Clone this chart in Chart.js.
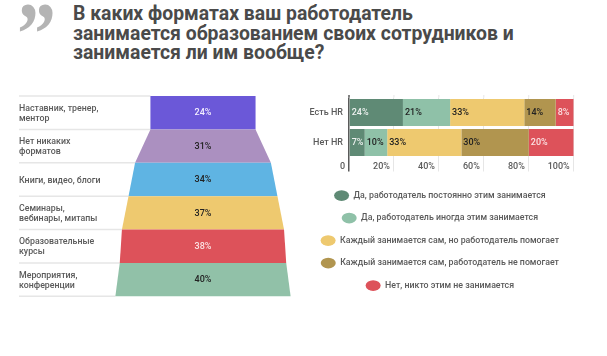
<!DOCTYPE html>
<html lang="ru">
<head>
<meta charset="utf-8">
<title>Форматы обучения</title>
<script src="https://cdn.jsdelivr.net/npm/chart.js@4/dist/chart.umd.min.js"></script>
<style>
    html, body { margin: 0; padding: 0; background: #fff; }
    body { position: relative; width: 607px; height: 356px; overflow: hidden; font-family: Roboto, sans-serif; }
    #quote { position: absolute; left: 17px; top: -12px; font: bold 78px/1 "Liberation Serif", serif; color: #b4b4b4; transform: scaleY(1.15); transform-origin: top left; }
    #title { position: absolute; left: 73px; top: 4px; font: bold 19.4px/19.5px Roboto, sans-serif; color: #4a4a4a; white-space: nowrap; }
    #funnel { position: absolute; left: 0; top: 90px; }
    #stack { position: absolute; left: 306px; top: 60px; }
</style>
</head>
<body>
<div id="quote">”</div>
<div id="title">В каких форматах ваш работодатель<br>занимается образованием своих сотрудников и<br>занимается ли им вообще?</div>
<canvas id="funnel" width="300" height="212"></canvas>
<canvas id="stack" width="278" height="240"></canvas>
<script>
    // funnel on the left
    var categories = [
        ['Наставник, тренер,', 'ментор'],
        ['Нет никаких', 'форматов'],
        ['Книги, видео, блоги'],
        ['Семинары,', 'вебинары, митапы'],
        ['Образовательные', 'курсы'],
        ['Мероприятия,', 'конференции']
    ];
    var funnelValues = [24, 31, 34, 37, 38, 40];
    var funnelColors = ['#6b58d8', '#ab90c0', '#5fb4e3', '#eec96f', '#dd525a', '#91c1a8'];
    var funnelTextColors = ['#f4f0ff', '#222222', '#222222', '#222222', '#fbe3e4', '#222222'];

    // stacked bars on the right
    var groups = ['Есть HR', 'Нет HR'];
    var alwaysValues = [24, 7];
    var sometimesValues = [21, 10];
    var helpsValues = [33, 33];
    var noHelpValues = [14, 30];
    var nobodyValues = [8, 20];
    var seriesNames = [
        'Да, работодатель постоянно этим занимается',
        'Да, работодатель иногда этим занимается',
        'Каждый занимается сам, но работодатель помогает',
        'Каждый занимается сам, работодатель не помогает',
        'Нет, никто этим не занимается'
    ];
    var seriesColors = ['#5f8a75', '#8fc1a8', '#eec96f', '#b1954f', '#dd525a'];
    var seriesTextColors = ['#eef2f0', '#222222', '#222222', '#222222', '#fbe3e4'];
    var xTickLabels = ['0', '20%', '40%', '60%', '80%', '100%'];

    var labelFont = '500 9px Roboto';
    var gridColor = '#e6e6e6';
    var axisColor = '#5a5a5a';

    // trapezoids instead of plain bars, every row starts from the width of the previous one
    var funnelPlugin = {
        id: 'funnelShapes',
        beforeDatasetDraw: function (chart) {
            var ctx = chart.ctx;
            var bars = chart.getDatasetMeta(0).data;
            var i;
            ctx.save();
            ctx.strokeStyle = gridColor;
            ctx.lineWidth = 1.5;
            for (i = 0; i < bars.length; i++) {
                var bottom = bars[i].y + bars[i].height / 2;
                if (i === 0) {
                    ctx.beginPath();
                    ctx.moveTo(chart.chartArea.left, bottom - bars[i].height);
                    ctx.lineTo(bars[0].base, bottom - bars[i].height);
                    ctx.stroke();
                }
                ctx.beginPath();
                ctx.moveTo(chart.chartArea.left, bottom);
                ctx.lineTo(bars[i].base, bottom);
                ctx.stroke();
            }
            for (i = 0; i < bars.length; i++) {
                var bar = bars[i];
                var prev = bars[i === 0 ? 0 : i - 1];
                var top = bar.y - bar.height / 2;
                ctx.fillStyle = funnelColors[i];
                ctx.beginPath();
                ctx.moveTo(prev.base, top);
                ctx.lineTo(prev.x, top);
                ctx.lineTo(bar.x, top + bar.height);
                ctx.lineTo(bar.base, top + bar.height);
                ctx.closePath();
                ctx.fill();

                ctx.fillStyle = funnelTextColors[i];
                ctx.font = labelFont;
                ctx.textAlign = 'center';
                ctx.textBaseline = 'middle';
                ctx.fillText(funnelValues[i] + '%', (bar.x + bar.base) / 2, bar.y + 0.5);
            }
            ctx.restore();
            return false;
        }
    };

    var stackPlugin = {
        id: 'stackLabels',
        beforeDatasetsDraw: function (chart) {
            // grid sticks out a little above the bars
            var ctx = chart.ctx;
            var xScale = chart.scales.x;
            ctx.save();
            xScale.ticks.forEach(function (tick, i) {
                var x = xScale.getPixelForTick(i);
                ctx.strokeStyle = i === 0 ? axisColor : gridColor;
                ctx.lineWidth = i === 0 ? 1.5 : 1;
                ctx.beginPath();
                ctx.moveTo(x, chart.chartArea.top - 2.5);
                ctx.lineTo(x, chart.chartArea.top);
                ctx.stroke();
            });
            ctx.restore();
        },
        afterDatasetsDraw: function (chart) {
            var ctx = chart.ctx;
            ctx.save();
            ctx.font = labelFont;
            ctx.textAlign = 'left';
            ctx.textBaseline = 'middle';
            chart.data.datasets.forEach(function (ds, d) {
                chart.getDatasetMeta(d).data.forEach(function (bar, i) {
                    ctx.fillStyle = seriesTextColors[d];
                    ctx.fillText(ds.data[i] + '%', bar.base + 2, bar.y);
                });
            });
            ctx.restore();
        }
    };

    new Chart(document.getElementById('funnel'), {
        type: 'bar',
        data: {
            labels: categories,
            datasets: [{
                data: funnelValues.map(function (v) { return [-v / 2, v / 2]; }),
                backgroundColor: funnelColors,
                categoryPercentage: 1,
                barPercentage: 1
            }]
        },
        plugins: [funnelPlugin],
        options: {
            indexAxis: 'y',
            responsive: false,
            animation: false,
            layout: { padding: { left: 19, right: 9.4, top: 6, bottom: 5.7 } },
            plugins: { legend: { display: false }, tooltip: { enabled: false } },
            scales: {
                x: { display: false, min: -42, max: 20 },
                y: {
                    afterFit: function (scale) { scale.paddingTop = 0; scale.paddingBottom = 0; },
                    grid: { display: false, drawTicks: false },
                    border: { display: false },
                    ticks: {
                        mirror: true,
                        padding: 0,
                        labelOffset: 1,
                        autoSkip: false,
                        color: axisColor,
                        font: { family: 'Roboto', size: 8.8, weight: '500', lineHeight: 1.14 }
                    }
                }
            }
        }
    });

    var seriesValues = [alwaysValues, sometimesValues, helpsValues, noHelpValues, nobodyValues];

    new Chart(document.getElementById('stack'), {
        type: 'bar',
        data: {
            labels: groups,
            datasets: seriesValues.map(function (vals, i) {
                return {
                    label: seriesNames[i],
                    data: vals,
                    backgroundColor: seriesColors[i],
                    categoryPercentage: 1,
                    barPercentage: 0.9
                };
            })
        },
        plugins: [stackPlugin],
        options: {
            indexAxis: 'y',
            responsive: false,
            animation: false,
            layout: { padding: { top: 37.5, right: 10.3 } },
            plugins: {
                tooltip: { enabled: false },
                legend: {
                    position: 'bottom',
                    maxHeight: 140,
                    labels: {
                        usePointStyle: true,
                        pointStyle: 'circle',
                        boxHeight: 7.5,
                        pointStyleWidth: 15,
                        padding: 13.7,
                        color: axisColor,
                        font: { family: 'Roboto', size: 8.8, weight: '500' }
                    }
                }
            },
            scales: {
                x: {
                    stacked: true,
                    min: 0,
                    max: 100,
                    afterFit: function (scale) { scale.height = 20; },
                    border: { display: false },
                    grid: {
                        tickLength: 14,
                        color: function (c) { return c.index === 0 ? axisColor : gridColor; },
                        tickColor: function (c) { return c.index === 0 ? axisColor : gridColor; },
                        lineWidth: function (c) { return c.index === 0 ? 1.5 : 1; }
                    },
                    ticks: {
                        stepSize: 20,
                        align: 'end',
                        labelOffset: -4,
                        padding: -10,
                        maxRotation: 0,
                        color: axisColor,
                        font: { family: 'Roboto', size: 9, weight: '500' },
                        callback: function (value, index) { return xTickLabels[index]; }
                    }
                },
                y: {
                    stacked: true,
                    afterFit: function (scale) { scale.width = 43; scale.paddingTop = 0; scale.paddingBottom = 0; },
                    grid: { display: false, drawTicks: false },
                    border: { display: false },
                    ticks: {
                        padding: 6,
                        color: axisColor,
                        font: { family: 'Roboto', size: 9, weight: '500' }
                    }
                }
            }
        }
    });
</script>
</body>
</html>
